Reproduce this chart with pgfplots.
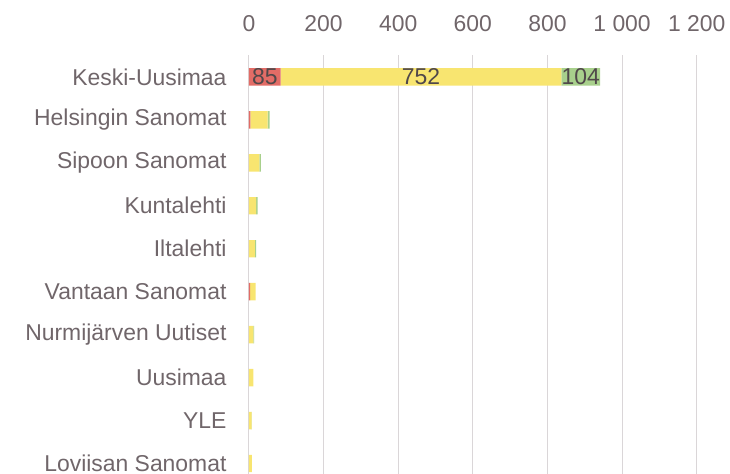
\documentclass[border=0pt]{standalone}
\usepackage{pgfplots}
\pgfplotsset{compat=1.18}
\usepackage{fontspec}
\setmainfont{Liberation Sans}
\definecolor{txt}{RGB}{112,102,106}
\definecolor{lab}{RGB}{80,72,74}
\definecolor{cred}{RGB}{226,108,102}
\definecolor{cyel}{RGB}{248,229,112}
\definecolor{cgrn}{RGB}{168,208,140}
\definecolor{gridc}{RGB}{218,214,216}
\begin{document}
\begin{tikzpicture}
\begin{axis}[
  name=ax,
  scale only axis,
  width=447.7bp, height=430bp,
  xbar stacked,
  bar width=17.4bp,
  xmin=0, xmax=1200,
  ymin=-0.5, ymax=9.51,
  xtick={0,200,...,1200},
  ytick={0,...,9},
  yticklabels={Loviisan Sanomat, YLE, Uusimaa, Nurmijärven Uutiset, Vantaan Sanomat, Iltalehti, Kuntalehti, Sipoon Sanomat, Helsingin Sanomat, Keski-Uusimaa},
  xticklabel pos=upper,
  axis line style={draw=none},
  major tick length=0pt,
  xmajorgrids,
  grid style={gridc, line width=1bp},
  tick label style={font=\fontsize{23}{27}\selectfont, text=txt},
  xticklabel style={yshift=20bp},
  yticklabel style={xshift=-19bp},
  /pgf/number format/1000 sep={\ },
  /pgf/number format/assume math mode=true,
]
\addplot[fill=cred, draw=none] coordinates {(85,9) (4,8) (0,7) (0,6) (0,5) (3,4) (0,3) (0,2) (0,1) (0,0)};
\addplot[fill=cyel, draw=none] coordinates {(752,9) (46,8) (28,7) (19,6) (16,5) (15,4) (12,3) (12,2) (7,1) (8,0)};
\addplot[fill=cgrn, draw=none] coordinates {(104,9) (5,8) (4,7) (4,6) (3,5) (0,4) (2,3) (0,2) (1,1) (0,0)};
\coordinate (l1) at (axis cs:42.5,9);
\coordinate (l2) at (axis cs:461,9);
\coordinate (l3) at (axis cs:889,9);
\end{axis}
\node[font=\fontsize{23}{27}\selectfont, text=lab] at (l1) {85};
\node[font=\fontsize{23}{27}\selectfont, text=lab] at (l2) {752};
\node[font=\fontsize{23}{27}\selectfont, text=lab] at (l3) {104};
\pgfresetboundingbox
\path[use as bounding box] ([xshift=-249bp,yshift=55bp]ax.north west) rectangle ([xshift=481bp,yshift=-419bp]ax.north west);
\end{tikzpicture}
\end{document}
